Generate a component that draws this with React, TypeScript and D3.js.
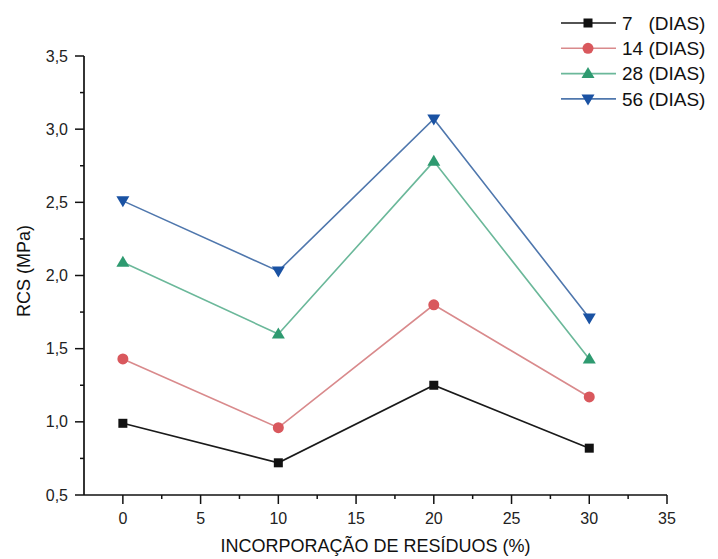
import React from "react";
import * as d3 from "d3";

const xValues = [0, 10, 20, 30];
const seriesNames = ["7   (DIAS)", "14 (DIAS)", "28 (DIAS)", "56 (DIAS)"];
const s7 = [0.99, 0.72, 1.25, 0.82];
const s14 = [1.43, 0.96, 1.80, 1.17];
const s28 = [2.09, 1.60, 2.78, 1.43];
const s56 = [2.51, 2.03, 3.07, 1.71];
const xTicks = [0, 5, 10, 15, 20, 25, 30, 35];
const yTicks = [0.5, 1.0, 1.5, 2.0, 2.5, 3.0, 3.5];
const xLabel = "INCORPORAÇÃO DE RESÍDUOS (%)";
const yLabel = "RCS (MPa)";

const lineColors = ["#1a1a1a", "#d98a8c", "#6bb89a", "#4f77ad"];
const markColors = ["#111111", "#d9585d", "#2e9a70", "#1a52a3"];
const shapes = ["square", "circle", "triangle", "invtriangle"];

function Marker({ shape, x, y, color }: { shape: string; x: number; y: number; color: string }) {
  if (shape === "square") return <rect x={x - 4.5} y={y - 4.5} width={9} height={9} fill={color} />;
  if (shape === "circle") return <circle cx={x} cy={y} r={5.5} fill={color} />;
  if (shape === "triangle")
    return <path d={`M${x},${y - 6.5} L${x + 6.5},${y + 4.5} L${x - 6.5},${y + 4.5}Z`} fill={color} />;
  return <path d={`M${x},${y + 6.5} L${x + 6.5},${y - 4.5} L${x - 6.5},${y - 4.5}Z`} fill={color} />;
}

export default function App() {
  const W = 718, H = 559;
  const left = 84, right = 667, top = 56, bottom = 495;
  const x = d3.scaleLinear().domain([-2.5, 35]).range([left, right]);
  const y = d3.scaleLinear().domain([0.5, 3.5]).range([bottom, top]);
  const series = [s7, s14, s28, s56];
  const line = d3.line<number>().x((_, i) => x(xValues[i])).y((d) => y(d));
  const xMinor = d3.range(0, 35.01, 2.5);
  const yMinor = d3.range(0.5, 3.501, 0.25);
  const fmt = (v: number) => v.toFixed(1).replace(".", ",");
  const font = "Liberation Sans, Arial, sans-serif";
  return (
    <svg width={W} height={H} style={{ position: "absolute", left: 0, top: 0 }} fontFamily={font}>
      <rect width={W} height={H} fill="#fff" />
      {/* axes */}
      <line x1={left} x2={left} y1={top} y2={bottom} stroke="#111" strokeWidth={1.7} />
      <line x1={left} x2={right} y1={bottom} y2={bottom} stroke="#111" strokeWidth={1.7} />
      {yMinor.map((v, i) => (
        <line key={"ym" + i} x1={left} x2={left - (i % 2 === 0 ? 9 : 4)} y1={y(v)} y2={y(v)} stroke="#111" strokeWidth={1.5} />
      ))}
      {xMinor.map((v, i) => (
        <line key={"xm" + i} x1={x(v)} x2={x(v)} y1={bottom} y2={bottom + (i % 2 === 0 ? 9 : 4)} stroke="#111" strokeWidth={1.5} />
      ))}
      {yTicks.map((v) => (
        <text key={"yt" + v} x={left - 16} y={y(v)} dy="0.35em" textAnchor="end" fontSize={16} fill="#222">
          {fmt(v)}
        </text>
      ))}
      {xTicks.map((v) => (
        <text key={"xt" + v} x={x(v)} y={bottom + 29} textAnchor="middle" fontSize={16} fill="#222">
          {v}
        </text>
      ))}
      <text x={(left + right) / 2} y={552} textAnchor="middle" fontSize={18} fill="#111">
        {xLabel}
      </text>
      <text transform={`translate(30,${271}) rotate(-90)`} textAnchor="middle" fontSize={18} fill="#111">
        {yLabel}
      </text>
      {/* series */}
      {series.map((s, si) => (
        <g key={"s" + si}>
          <path d={line(s) || ""} fill="none" stroke={lineColors[si]} strokeWidth={1.6} />
          {s.map((v, i) => (
            <Marker key={i} shape={shapes[si]} x={x(xValues[i])} y={y(v)} color={markColors[si]} />
          ))}
        </g>
      ))}
      {/* legend */}
      {seriesNames.map((n, i) => {
        const ly = 23 + i * 25.3;
        return (
          <g key={"lg" + i}>
            <line x1={561} x2={616} y1={ly} y2={ly} stroke={lineColors[i]} strokeWidth={1.6} />
            <Marker shape={shapes[i]} x={588} y={ly} color={markColors[i]} />
            <text x={622} y={ly} dy="0.36em" fontSize={19} fill="#111" style={{ whiteSpace: "pre" }}>
              {n}
            </text>
          </g>
        );
      })}
    </svg>
  );
}
